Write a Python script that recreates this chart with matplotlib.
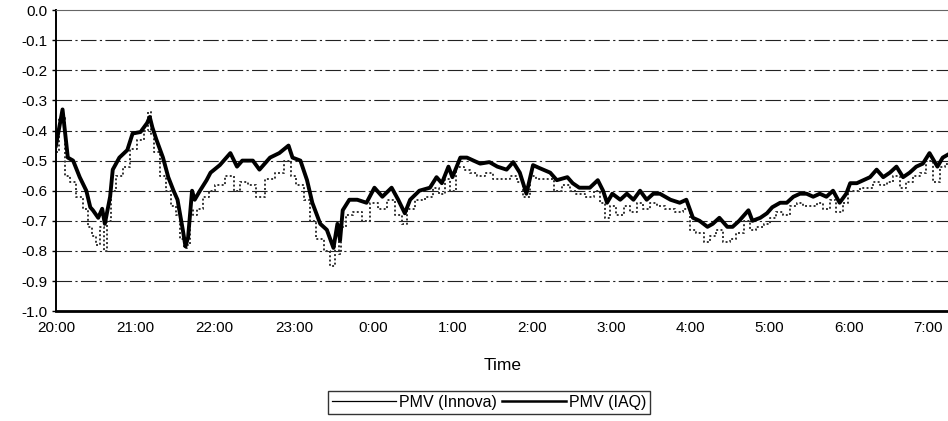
import matplotlib
matplotlib.use('Agg')
import matplotlib.pyplot as plt

plt.rcParams['font.family'] = ['Liberation Sans', 'DejaVu Sans']

# Время в минутах от 20:00
t_min = [0, 5, 9, 13, 18, 23, 26, 28, 32, 35, 37, 41, 43, 48, 54, 58,
         64, 69, 71, 73, 76, 81, 85, 89, 92, 96, 98, 100, 103, 105, 109, 114, 117,
         124, 132, 137, 141, 149, 154, 162, 169, 176, 179,
         185, 190, 194, 200, 205, 210, 213, 215, 217, 222, 228, 235,
         241, 247, 254, 259, 264, 268, 275, 283, 288, 292, 297,
         300, 306, 311, 316, 321, 328, 334, 341, 346, 351, 356,
         361, 366, 374, 379, 387, 391, 396, 404, 410, 414, 417,
         421, 427, 432, 437, 442, 447, 452, 457, 465, 472, 477,
         482, 487, 493, 497, 502, 508, 512, 517, 524, 527, 533, 538,
         542, 548, 553, 558, 563, 568, 573, 578, 583, 588, 593, 598,
         601, 606, 611, 616, 621, 626, 631, 636, 641, 646, 651, 656,
         661, 667, 671, 675]

# PMV по датчику IAQ
pmv_iaq = [-0.45, -0.33, -0.49, -0.50, -0.555, -0.60, -0.655, -0.665, -0.69, -0.66, -0.71, -0.62, -0.53, -0.49, -0.465, -0.41,
           -0.405, -0.375, -0.355, -0.39, -0.43, -0.49, -0.555, -0.60, -0.63, -0.73, -0.785, -0.755, -0.60, -0.63, -0.60, -0.565, -0.54,
           -0.515, -0.475, -0.52, -0.50, -0.50, -0.53, -0.49, -0.475, -0.45, -0.49,
           -0.50, -0.565, -0.64, -0.71, -0.73, -0.79, -0.71, -0.765, -0.665, -0.63, -0.63, -0.64,
           -0.59, -0.62, -0.59, -0.63, -0.675, -0.63, -0.60, -0.59, -0.555, -0.575, -0.52,
           -0.555, -0.49, -0.49, -0.50, -0.51, -0.505, -0.52, -0.53, -0.505, -0.54, -0.61,
           -0.515, -0.525, -0.54, -0.565, -0.555, -0.575, -0.59, -0.59, -0.565, -0.60, -0.64,
           -0.61, -0.63, -0.61, -0.63, -0.60, -0.63, -0.61, -0.61, -0.63, -0.64, -0.63,
           -0.69, -0.70, -0.72, -0.71, -0.69, -0.72, -0.72, -0.70, -0.665, -0.70, -0.69, -0.675,
           -0.655, -0.64, -0.64, -0.62, -0.61, -0.61, -0.62, -0.61, -0.62, -0.60, -0.64, -0.61,
           -0.575, -0.575, -0.565, -0.555, -0.53, -0.555, -0.54, -0.52, -0.555, -0.54, -0.52, -0.51,
           -0.475, -0.52, -0.49, -0.48]

# PMV по датчику Innova
pmv_innova = [-0.47, -0.36, -0.55, -0.57, -0.62, -0.66, -0.72, -0.75, -0.78, -0.72, -0.80, -0.70, -0.60, -0.55, -0.52, -0.46,
              -0.43, -0.40, -0.34, -0.41, -0.47, -0.55, -0.60, -0.65, -0.68, -0.76, -0.79, -0.78, -0.66, -0.68, -0.66, -0.62, -0.60,
              -0.58, -0.55, -0.60, -0.57, -0.58, -0.62, -0.56, -0.54, -0.50, -0.55,
              -0.58, -0.63, -0.70, -0.76, -0.80, -0.85, -0.77, -0.81, -0.72, -0.68, -0.67, -0.70,
              -0.64, -0.66, -0.63, -0.68, -0.71, -0.66, -0.63, -0.62, -0.59, -0.61, -0.56,
              -0.60, -0.52, -0.53, -0.54, -0.55, -0.54, -0.56, -0.56, -0.55, -0.57, -0.62,
              -0.55, -0.56, -0.56, -0.60, -0.58, -0.60, -0.61, -0.62, -0.60, -0.64, -0.69,
              -0.65, -0.68, -0.65, -0.67, -0.64, -0.66, -0.64, -0.65, -0.66, -0.67, -0.66,
              -0.73, -0.74, -0.77, -0.75, -0.73, -0.77, -0.76, -0.74, -0.70, -0.73, -0.72, -0.71,
              -0.69, -0.67, -0.68, -0.65, -0.64, -0.65, -0.65, -0.64, -0.66, -0.63, -0.67, -0.64,
              -0.60, -0.60, -0.59, -0.59, -0.57, -0.58, -0.57, -0.55, -0.59, -0.57, -0.55, -0.54,
              -0.50, -0.57, -0.52, -0.51]

hour_ticks = [0, 60, 120, 180, 240, 300, 360, 420, 480, 540, 600, 660]
hour_labels = ['20:00', '21:00', '22:00', '23:00', '0:00', '1:00',
               '2:00', '3:00', '4:00', '5:00', '6:00', '7:00']
pmv_ticks = [0.0, -0.1, -0.2, -0.3, -0.4, -0.5, -0.6, -0.7, -0.8, -0.9, -1.0]
pmv_labels = ['0.0', '-0.1', '-0.2', '-0.3', '-0.4', '-0.5',
              '-0.6', '-0.7', '-0.8', '-0.9', '-1.0']

fig = plt.figure(figsize=(9.48, 4.21), dpi=100)
ax = fig.add_axes([0.059, 0.261, 0.941, 0.715])

# Сетка штрихпунктиром
for y in pmv_ticks[1:-1]:
    ax.axhline(y, color='#222222', lw=0.8, ls=(0, (14, 3, 2, 3)), zorder=1)

# Кривые
ax.plot(t_min, pmv_innova, color='#333333', lw=1.4, ls=(0, (1, 1.2)),
        drawstyle='steps-mid', label='PMV (Innova)', zorder=2)
ax.plot(t_min, pmv_iaq, color='black', lw=2.8, label='PMV (IAQ)', zorder=3)

ax.set_xlim(0, 675)
ax.set_ylim(-1.0, 0.0)
ax.set_xticks(hour_ticks)
ax.set_xticklabels(hour_labels, fontsize=11)
ax.set_yticks(pmv_ticks)
ax.set_yticklabels(pmv_labels, fontsize=11)
ax.tick_params(axis='x', length=0, pad=7)
ax.tick_params(axis='y', length=3, width=1, pad=3)

ax.spines['right'].set_visible(False)
ax.spines['top'].set_color('#666666')
ax.spines['top'].set_linewidth(0.8)
ax.spines['left'].set_linewidth(1.4)
ax.spines['bottom'].set_linewidth(2.0)

fig.text(0.53, 0.133, 'Time', fontsize=12.5, ha='center', va='center')

# Легенда под графиком
leg = fig.legend(loc='center', bbox_to_anchor=(0.516, 0.045), ncol=2,
                 fontsize=11.5, frameon=True, fancybox=False, handlelength=4.0,
                 handletextpad=0.2, columnspacing=0.3, borderpad=0.25)
leg.get_frame().set_edgecolor('black')
leg.get_frame().set_linewidth(1.0)
leg.get_lines()[0].set_linestyle('-')
leg.get_lines()[0].set_linewidth(0.9)
leg.get_lines()[0].set_color('black')
leg.get_lines()[1].set_linewidth(1.8)

fig.savefig('out.png', dpi=100)
